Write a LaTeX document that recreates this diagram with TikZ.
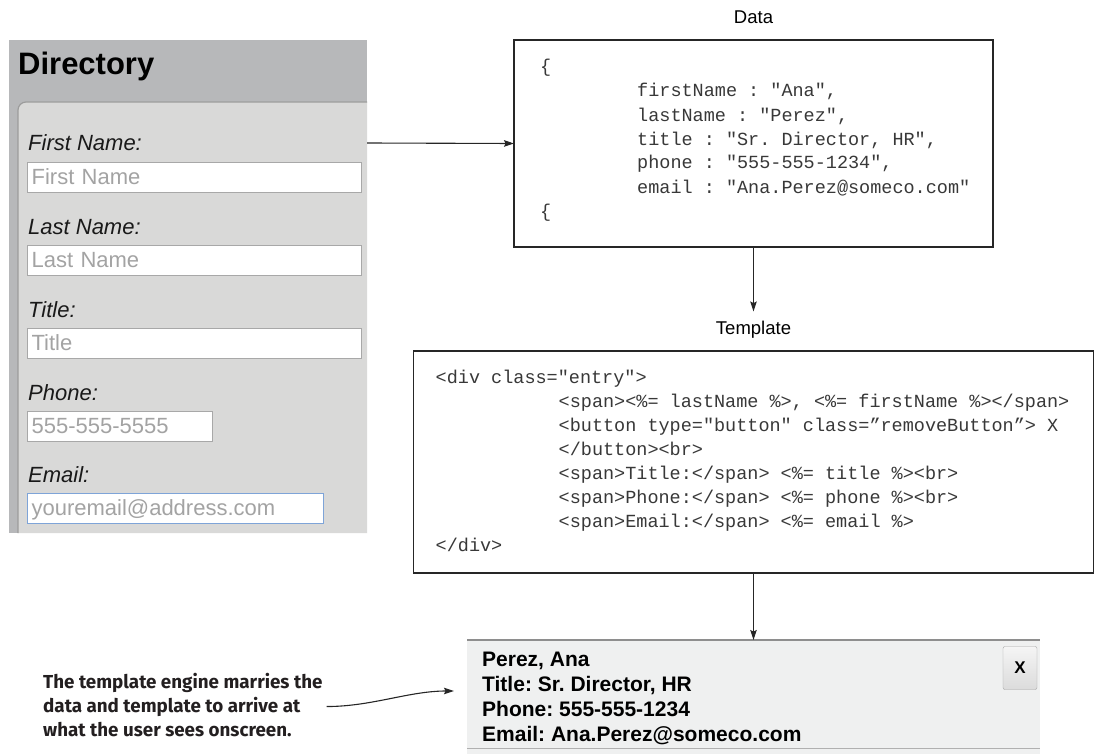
\documentclass[tikz,border=0pt]{standalone}
\usepackage{fontspec}
\setmainfont{Liberation Sans}
\newfontfamily\codefont{Liberation Mono}
\newfontfamily\notefont{Fira Sans}
\usetikzlibrary{
    positioning,
    arrows.meta,
    calc
}
\definecolor{headergray}{HTML}{B7B8BA}
\definecolor{panelgray}{HTML}{D9D9D8}
\definecolor{panelline}{HTML}{9C9C9C}
\definecolor{fieldline}{HTML}{A8A8A8}
\definecolor{placeholder}{HTML}{A3A3A3}
\definecolor{focusblue}{HTML}{7EA4D8}
\definecolor{entrybg}{HTML}{EFF0F0}
\definecolor{entryline}{HTML}{8E8E8E}
\definecolor{notetext}{HTML}{231F20}
\tikzset{%
    code box/.style={%
        rectangle,
        draw=black!85,
        line width=1.2pt,
        inner sep = 0pt,
        outer sep = 0pt
    },
    code text/.style={%
        anchor=base west,
        align=left,
        inner sep=0pt,
        text=black!78,
        font=\codefont\fontsize{18.5}{24}\selectfont\frenchspacing
    },
    box label/.style={%
        inner sep=4pt,
        outer sep=5pt,
        text height=13.5pt,
        text depth=4pt,
        font=\fontsize{18.5}{22}\selectfont
    },
    arrow/.style={%
        >={Stealth[length=10pt, width=6.5pt, inset=1.5pt]},
        line width=1.1pt,
        draw=black!85
    },
    field label/.style={%
        anchor=base west,
        inner sep=0pt,
        text=black!90,
        font=\fontsize{22}{26}\selectfont\itshape
    },
    input box/.style={%
        rectangle,
        anchor=north west,
        fill=white,
        line width=1.2pt,
        inner xsep=4pt,
        inner ysep=0pt,
        minimum height=30pt,
        text height=17pt,
        text depth=3pt,
        align=left,
        text=placeholder,
        font=\fontsize{22}{26}\selectfont
    },
    entry panel/.style={%
        rectangle,
        fill=entrybg,
        inner sep=0pt,
        outer sep=0pt,
        minimum width=573pt,
        minimum height=114pt
    },
    entry text/.style={%
        anchor=base west,
        align=left,
        inner sep=0pt,
        font=\fontsize{21}{24.7}\selectfont\bfseries\frenchspacing
    },
    close button/.style={%
        rectangle,
        rounded corners=2pt,
        draw=black!35,
        top color=white!96!black,
        bottom color=black!14,
        minimum width=34pt,
        minimum height=43pt,
        inner sep=0pt,
        font=\fontsize{17}{20}\selectfont\bfseries
    },
    note/.style={%
        anchor=base west,
        align=left,
        inner sep=0pt,
        text=notetext,
        font=\notefont\bfseries\fontsize{18.8}{24}\selectfont
    },
}

\begin{document}
\begin{tikzpicture}[x=1pt, y=-1pt]
    \useasboundingbox (0,0) rectangle (1094,754);

    % the form screenshot
    \fill[headergray] (9,40) rectangle (367,533);
    \fill[panelgray] (18,533) [rounded corners=8pt] -- (18,102) [sharp corners] -- (367,102) -- (367,533) -- cycle;
    \draw[panelline, line width=1.2pt] (18,533) [rounded corners=8pt] -- (18,102) [sharp corners] -- (367,102);
    \node[anchor=base west, inner sep=0pt, font=\fontsize{31}{36}\selectfont\bfseries] (dirtitle) at (18,75) {Directory};

    \foreach \lab/\hint/\ly/\bw/\bc/\nm in {%
        First Name:/First Name/151/334/fieldline/first,
        Last Name:/Last Name/234/334/fieldline/last,
        Title:/Title/317/334/fieldline/title,
        Phone:/555-555-5555/400/185/fieldline/phone,
        Email:/youremail@address.com/482/296/focusblue/email}
    {
        \pgfmathsetmacro\tw{\bw-8}
        \node[field label] (\nm label) at (28,\ly) {\lab};
        \node[input box, draw=\bc, text width=\tw pt] (\nm box) at (27,\ly+11) {\hint};
    }
    \coordinate (formedge) at (367,143);

    % data
    \node[code box, anchor=north west, minimum width=479pt, minimum height=207pt] (data) at (514,40) {};
    \node[box label, above=3.4pt of data] (datalabel) {Data};
    \node[code text] (datatext) at ($(data.north west)+(26,177)$) {%
        \{\\
        \hspace*{97pt}firstName : "Ana",\\
        \hspace*{97pt}lastName : "Perez",\\
        \hspace*{97pt}title : "Sr. Director, HR",\\
        \hspace*{97pt}phone : "555-555-1234",\\
        \hspace*{97pt}email : "Ana.Perez@someco.com"\\
        \{};

    % template
    \node[box label, below=64.5pt of data] (templatelabel) {Template};
    \node[code box, below=4pt of templatelabel, minimum width=680pt, minimum height=222pt] (template) {};
    \node[code text] (templatetext) at ($(template.north west)+(22,200)$) {%
        <div class="entry">\\
        \hspace*{123pt}<span><\%= lastName \%>, <\%= firstName \%></span>\\
        \hspace*{123pt}<button type="button" class=”removeButton”> X\\
        \hspace*{123pt}</button><br>\\
        \hspace*{123pt}<span>Title:</span> <\%= title \%><br>\\
        \hspace*{123pt}<span>Phone:</span> <\%= phone \%><br>\\
        \hspace*{123pt}<span>Email:</span> <\%= email \%>\\
        </div>};

    % result
    \node[entry panel, below=67pt of template] (result) {};
    \draw[entryline, line width=2pt] (result.north west) -- (result.north east);
    \draw[entryline!70, line width=1pt] ($(result.south west)+(0,-6)$) -- ($(result.south east)+(0,-6)$);
    \node[entry text] (entrytext) at ($(result.north west)+(15,101)$) {%
        Perez, Ana\\
        Title: Sr. Director, HR\\
        Phone: 555-555-1234\\
        Email: Ana.Perez@someco.com};
    \node[close button] (closebtn) at ($(result.north east)+(-20,28)$) {X};

    \node[note] (note) at (43,736) {%
        The template engine marries the\\
        data and template to arrive at\\
        what the user sees onscreen.};

    \draw[arrow, ->] (formedge) -- (data.west);
    \draw[arrow, ->] (data) -- (templatelabel);
    \draw[arrow, ->] (template) -- (result);
    \draw[arrow, ->] ([xshift=4pt, yshift=-2pt]note.east) .. controls +(45,0) and +(-45,0) .. ([xshift=-13pt, yshift=6pt]result.west);
\end{tikzpicture}
\end{document}
